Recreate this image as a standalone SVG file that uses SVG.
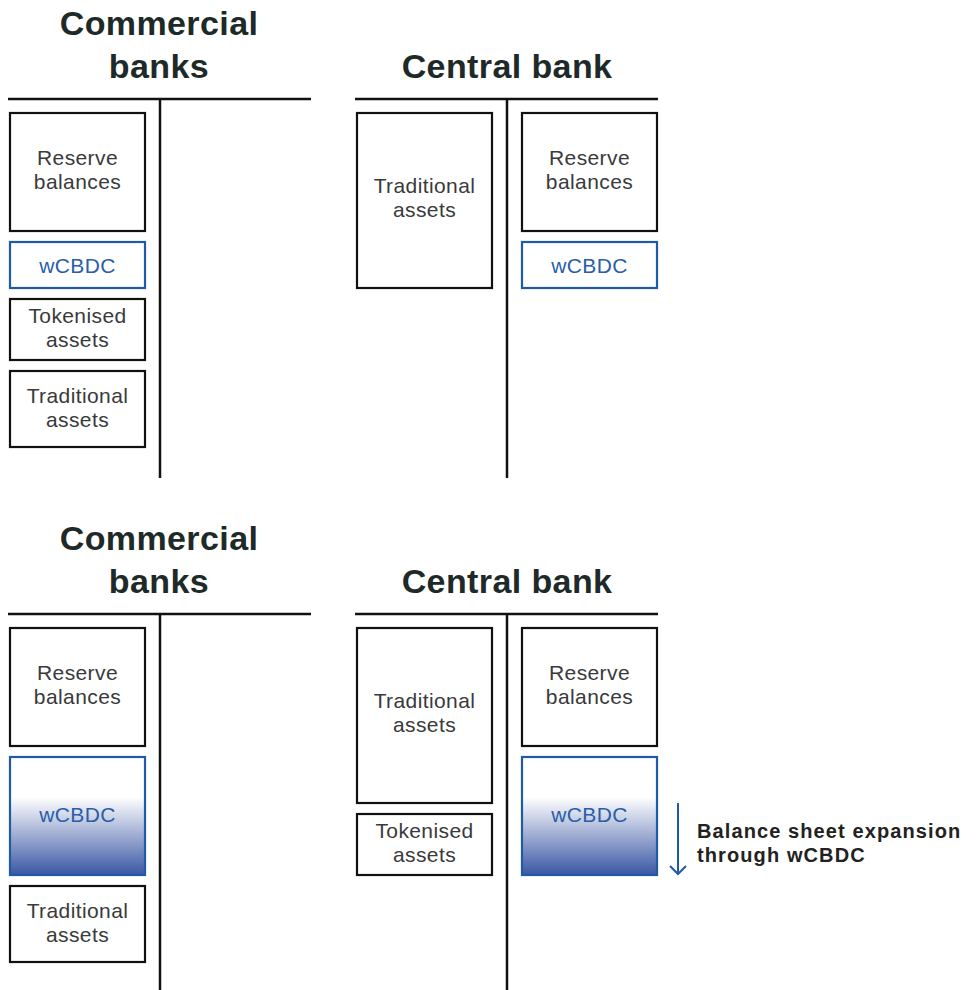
<svg xmlns="http://www.w3.org/2000/svg" width="976" height="990" viewBox="0 0 976 990">
<style>
.title{font-family:"Liberation Sans",Arial,sans-serif;font-weight:bold;font-size:34px;fill:#1e2a28;text-anchor:middle;letter-spacing:0.4px}
.lbl{font-family:"Liberation Sans",Arial,sans-serif;font-size:21px;fill:#3a3a3a;text-anchor:middle;letter-spacing:0.4px}
.blue{fill:#2b5da8}
.box{fill:#fff;stroke:#111;stroke-width:2.2}
.bbox{fill:#fff;stroke:#1f5aa6;stroke-width:2.2}
.gbox{fill:url(#grad);stroke:#1f5aa6;stroke-width:2.2}
.rule{stroke:#111;stroke-width:2.5;fill:none}
.note{font-family:"Liberation Sans",Arial,sans-serif;font-weight:bold;font-size:20px;fill:#222;letter-spacing:1.1px}
</style>
<defs>
<linearGradient id="grad" x1="0" y1="0" x2="0" y2="1">
<stop offset="0" stop-color="#ffffff"/>
<stop offset="0.34" stop-color="#ffffff"/>
<stop offset="1" stop-color="#3a57a4"/>
</linearGradient>
</defs>
<rect width="976" height="990" fill="#fff"/>

<g id="connectors">
<line class="rule" x1="8" y1="99" x2="311" y2="99"/>
<line class="rule" x1="160" y1="99" x2="160" y2="478"/>
<line class="rule" x1="355" y1="99" x2="658" y2="99"/>
<line class="rule" x1="507" y1="99" x2="507" y2="478"/>
<line class="rule" x1="8" y1="614" x2="311" y2="614"/>
<line class="rule" x1="160" y1="614" x2="160" y2="990"/>
<line class="rule" x1="355" y1="614" x2="658" y2="614"/>
<line class="rule" x1="507" y1="614" x2="507" y2="990"/>
<path d="M678 803 V874 M670 866 L678 874 L686 866" fill="none" stroke="#1f5aa6" stroke-width="2"/>
</g>

<g id="titles-top">
<text class="title" x="159" y="35">Commercial</text>
<text class="title" x="159" y="78">banks</text>
<text class="title" x="507" y="78">Central bank</text>
</g>
<g id="titles-bottom">
<text class="title" x="159" y="550">Commercial</text>
<text class="title" x="159" y="593">banks</text>
<text class="title" x="507" y="593">Central bank</text>
</g>

<g id="top-cb-reserve"><rect class="box" x="10" y="113" width="135" height="118"/><text class="lbl" x="77.5" y="165">Reserve</text><text class="lbl" x="77.5" y="189">balances</text></g>
<g id="top-cb-wcbdc"><rect class="bbox" x="10" y="242" width="135" height="46"/><text class="lbl blue" x="77.5" y="273">wCBDC</text></g>
<g id="top-cb-tokenised"><rect class="box" x="10" y="299" width="135" height="61"/><text class="lbl" x="77.5" y="323">Tokenised</text><text class="lbl" x="77.5" y="347">assets</text></g>
<g id="top-cb-traditional"><rect class="box" x="10" y="371" width="135" height="76"/><text class="lbl" x="77.5" y="403">Traditional</text><text class="lbl" x="77.5" y="427">assets</text></g>

<g id="top-central-traditional"><rect class="box" x="357" y="113" width="135" height="175"/><text class="lbl" x="424.5" y="193">Traditional</text><text class="lbl" x="424.5" y="217">assets</text></g>
<g id="top-central-reserve"><rect class="box" x="522" y="113" width="135" height="118"/><text class="lbl" x="589.5" y="165">Reserve</text><text class="lbl" x="589.5" y="189">balances</text></g>
<g id="top-central-wcbdc"><rect class="bbox" x="522" y="242" width="135" height="46"/><text class="lbl blue" x="589.5" y="273">wCBDC</text></g>

<g id="bot-cb-reserve"><rect class="box" x="10" y="628" width="135" height="118"/><text class="lbl" x="77.5" y="680">Reserve</text><text class="lbl" x="77.5" y="704">balances</text></g>
<g id="bot-cb-wcbdc"><rect class="gbox" x="10" y="757" width="135" height="118"/><text class="lbl blue" x="77.5" y="822">wCBDC</text></g>
<g id="bot-cb-traditional"><rect class="box" x="10" y="886" width="135" height="76"/><text class="lbl" x="77.5" y="918">Traditional</text><text class="lbl" x="77.5" y="942">assets</text></g>

<g id="bot-central-traditional"><rect class="box" x="357" y="628" width="135" height="175"/><text class="lbl" x="424.5" y="708">Traditional</text><text class="lbl" x="424.5" y="732">assets</text></g>
<g id="bot-central-tokenised"><rect class="box" x="357" y="814" width="135" height="61"/><text class="lbl" x="424.5" y="838">Tokenised</text><text class="lbl" x="424.5" y="862">assets</text></g>
<g id="bot-central-reserve"><rect class="box" x="522" y="628" width="135" height="118"/><text class="lbl" x="589.5" y="680">Reserve</text><text class="lbl" x="589.5" y="704">balances</text></g>
<g id="bot-central-wcbdc"><rect class="gbox" x="522" y="757" width="135" height="118"/><text class="lbl blue" x="589.5" y="822">wCBDC</text></g>

<g id="note">
<text class="note" x="697" y="838">Balance sheet expansion</text>
<text class="note" x="697" y="862">through wCBDC</text>
</g>
</svg>
